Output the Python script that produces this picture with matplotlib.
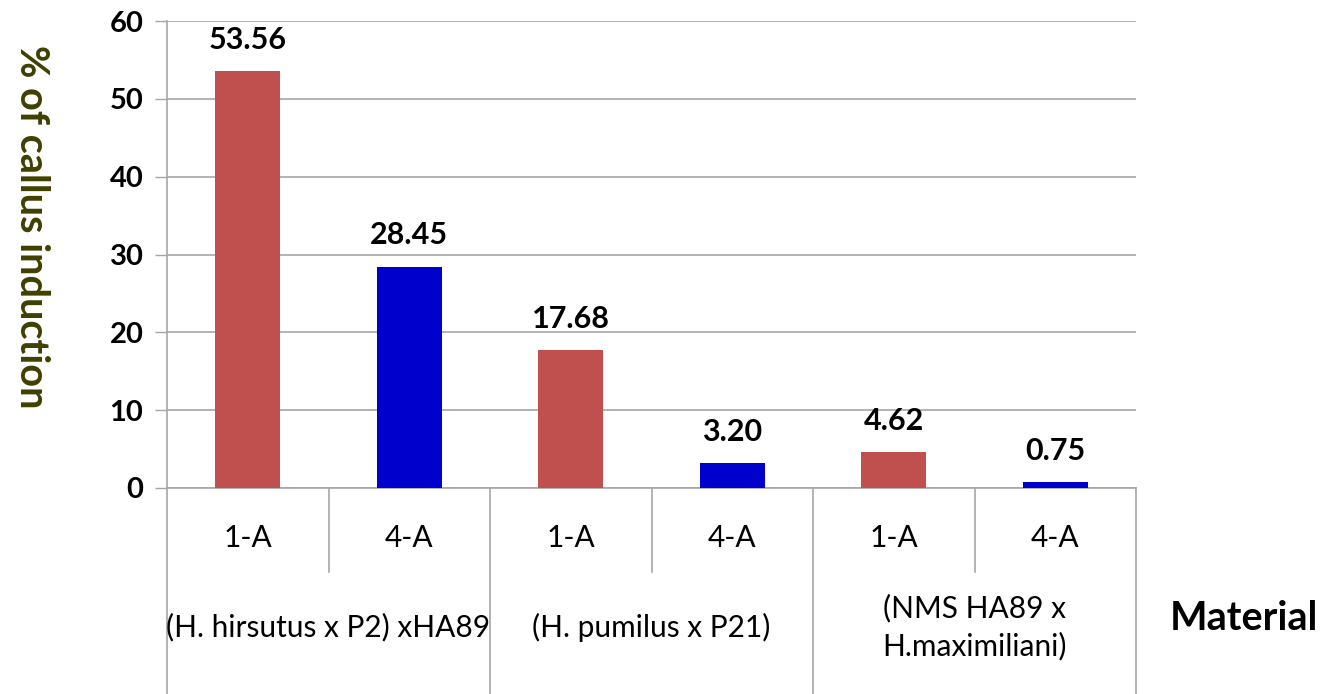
import matplotlib
matplotlib.use("Agg")
import matplotlib.pyplot as plt
from matplotlib.lines import Line2D

# Data
treatments = ["1-A", "4-A", "1-A", "4-A", "1-A", "4-A"]
materials = ["(H. hirsutus x P2) xHA89", "(H. pumilus x P21)", "(NMS HA89 x\nH.maximiliani)"]
callus_pct = [53.56, 28.45, 17.68, 3.20, 4.62, 0.75]
bar_colors = ["#C0504D", "#0000CC", "#C0504D", "#0000CC", "#C0504D", "#0000CC"]
y_ticks = [0, 10, 20, 30, 40, 50, 60]

FONT = "Lato"
GRID = "#A6A6A6"

W, H = 1326, 694
fig = plt.figure(figsize=(W / 100, H / 100), dpi=100)
left, right, top, bottom = 167, 1136, 21, 488
ax = fig.add_axes([left / W, 1 - bottom / H, (right - left) / W, (bottom - top) / H])

x = list(range(len(callus_pct)))
bars = ax.bar(x, callus_pct, width=0.4, color=bar_colors, zorder=3)

ax.set_xlim(-0.5, len(x) - 0.5)
ax.set_ylim(0, 60)
ax.set_yticks(y_ticks)
ax.set_yticklabels([str(t) for t in y_ticks], fontfamily=FONT, fontweight="bold", fontsize=21)
ax.tick_params(axis="y", length=9, width=1, color=GRID, pad=8)
ax.set_xticks([])
ax.yaxis.grid(True, color=GRID, linewidth=1.2, zorder=0)
ax.set_axisbelow(True)

for s in ["top", "right"]:
    ax.spines[s].set_visible(False)
for s in ["left", "bottom"]:
    ax.spines[s].set_color(GRID)
    ax.spines[s].set_linewidth(1.2)

# Value labels above bars
for xi, v in zip(x, callus_pct):
    ax.annotate(f"{v:.2f}", (xi, v), xytext=(0, 12.5), textcoords="offset points",
                ha="center", va="bottom", fontfamily=FONT, fontweight="bold", fontsize=22)

# Category table below the axis
trans = ax.get_xaxis_transform()
ax_h = bottom - top
y_full = -(H - bottom) / ax_h
y_short = -(572 - bottom) / ax_h
for i in range(len(x) + 1):
    bx = i - 0.5
    y_end = y_full if i % 2 == 0 else y_short
    ax.add_line(Line2D([bx, bx], [0, y_end], transform=trans, color=GRID,
                       linewidth=1.2, clip_on=False))

y_treat = -(538 - bottom) / ax_h
for xi, t in zip(x, treatments):
    ax.text(xi, y_treat, t, transform=trans, ha="center", va="center",
            fontfamily=FONT, fontsize=21.5)

y_mat = -(627 - bottom) / ax_h
for gi, m in enumerate(materials):
    ax.text(2 * gi + 0.5, y_mat, m, transform=trans, ha="center", va="center",
            fontfamily=FONT, fontsize=21.5, linespacing=1.4)

fig.text(1244 / W, 1 - 618 / H, "Material", ha="center", va="center",
         fontfamily=FONT, fontweight="bold", fontsize=28.5)

fig.text(31 / W, 1 - 227 / H, "% of callus induction", rotation=270,
         ha="center", va="center", fontfamily=FONT, fontweight="bold",
         fontsize=28.5, color="#3F3F00")

fig.savefig("out.png", dpi=100)
